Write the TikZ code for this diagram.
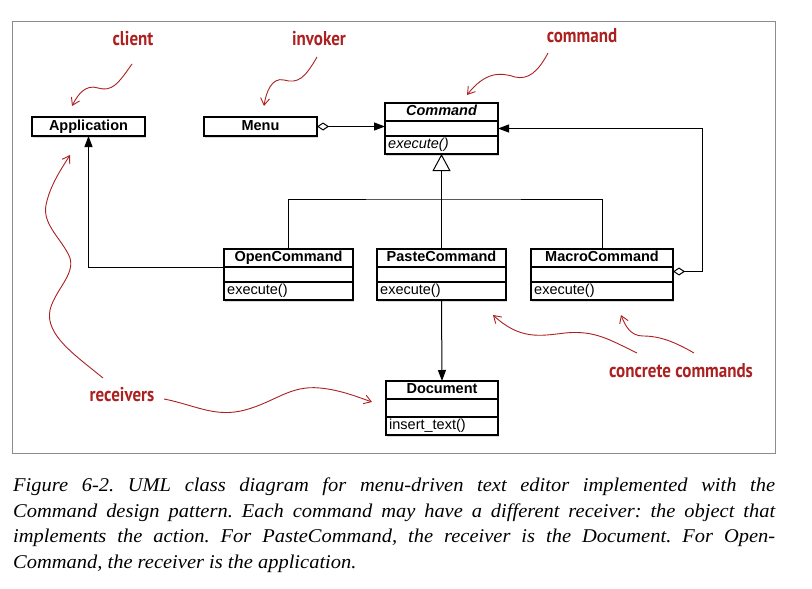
\documentclass[tikz,border=0pt]{standalone}
\usepackage{fontspec}
\setmainfont{Liberation Serif}
\newfontfamily\capfont{Liberation Serif}[FakeStretch=1.05]
\newfontfamily\boxfont{Liberation Sans}
\newfontfamily\handfont{PT Sans}[FakeStretch=0.85]
\usetikzlibrary{arrows.meta, positioning, shadows}
\definecolor{handred}{RGB}{172,32,32}
\definecolor{framegray}{RGB}{140,140,140}

\tikzset{
  clsbox/.style={draw, line width=1.2pt, fill=white, inner sep=0pt, outer sep=0pt,
    minimum height=18pt, text height=10.5pt, text depth=3pt,
    drop shadow={opacity=0.3, shadow xshift=1pt, shadow yshift=-1.5pt}},
  clsname/.style={clsbox, font=\boxfont\bfseries\fontsize{14.5}{14.5}\selectfont},
  optext/.style={inner sep=0pt, font=\boxfont\fontsize{14.5}{14.5}\selectfont},
  link/.style={line width=1pt},
  assoc/.style={link, -{Triangle[length=11pt, width=8pt]}},
  aggr/.style={link, {Diamond[open, length=12pt, width=8pt]}-{Triangle[length=11pt, width=8pt]}},
  inherit/.style={link, -{Triangle[open, length=17pt, width=18pt, fill=white]}},
  note/.style={handred, font=\handfont\bfseries\fontsize{20}{20}\selectfont},
  wavy/.style={handred, line width=0.9pt, -{Straight Barb[length=7pt, width=9pt]}},
}

% class box: name, attribute part and operation part
\newcommand{\umlclass}[6][15pt]{%
  \node[clsname, minimum width=#4] (#2) at #3 {#5};
  \node[clsbox, minimum width=#4, minimum height=#1, below=0pt of #2] (#2-attr) {};
  \node[clsbox, minimum width=#4, below=0pt of #2-attr] (#2-op) {};
  \node[optext, anchor=west] (#2-optxt) at ([xshift=3pt]#2-op.west) {#6};
}

\begin{document}
\begin{tikzpicture}[x=1pt, y=-1pt]
  \useasboundingbox (0,0) rectangle (812,589);
  \draw[framegray, line width=1pt] (12,21) rectangle (775,453);

  % classes
  \node[clsname, minimum width=113pt, minimum height=19pt] (app) at (88.5,126.5) {Application};
  \node[clsname, minimum width=113pt, minimum height=19pt] (menu) at (260.5,126.5) {Menu};
  \umlclass{cmd}{(441.5,112)}{113pt}{\itshape Command}{\itshape execute()}
  \umlclass{open}{(288.5,258)}{129pt}{OpenCommand}{execute()}
  \umlclass{paste}{(441.5,258)}{129pt}{PasteCommand}{execute()}
  \umlclass{macro}{(602,258)}{142pt}{MacroCommand}{execute()}
  \umlclass[18pt]{doc}{(442,390)}{112pt}{Document}{insert\_text()}

  % relations
  \coordinate (bus) at (0,199);
  \coordinate (ret) at (702,0);
  \draw[aggr] (menu.east) -- (menu.east -| cmd.west);
  \draw[link] (open.north) |- (bus -| paste) -| (macro.north);
  \draw[inherit] (paste.north) -- (cmd-op.south);
  \draw[assoc] (open.south west) -| (app.south);
  \draw[assoc] (paste-op.south) -- (doc.north);
  \draw[aggr] ([yshift=3pt]macro-attr.east) -- ([yshift=3pt]macro-attr.east -| ret) |- (cmd-attr.east);

  % notes
  \node[note] (client) at (133,39) {client};
  \node[note] (invoker) at (319,39) {invoker};
  \node[note] (cmdnote) at (582,36) {command};
  \node[note] (recv) at (122,395) {receivers};
  \node[note] (concrete) at (681,371) {concrete commands};

  \coordinate (client-tip) at (72,106);
  \coordinate (invoker-tip) at (264,106);
  \coordinate (cmd-tip) at (467,95);
  \coordinate (recv-tip1) at (70,155);
  \coordinate (recv-tip2) at (372,402);
  \coordinate (conc-tip1) at (493,315);
  \coordinate (conc-tip2) at (621,315);

  \draw[wavy] (132,64) .. controls (118,84) and (112,92) .. (98,88)
    .. controls (86,84) and (78,94) .. (client-tip);
  \draw[wavy] (317,57) .. controls (305,78) and (298,84) .. (284,80)
    .. controls (272,77) and (266,92) .. (invoker-tip);
  \draw[wavy] (548,53) .. controls (538,72) and (528,80) .. (515,77)
    .. controls (500,72) and (485,72) .. (cmd-tip);
  \draw[wavy] (103,378) .. controls (75,355) and (45,335) .. (50,310)
    .. controls (55,290) and (75,275) .. (70,258)
    .. controls (63,240) and (42,225) .. (46,205)
    .. controls (50,185) and (62,168) .. (recv-tip1);
  \draw[wavy] (164,399) .. controls (195,405) and (215,418) .. (245,410)
    .. controls (275,402) and (290,385) .. (320,388)
    .. controls (340,390) and (355,396) .. (recv-tip2);
  \draw[wavy] (637,353) .. controls (610,340) and (595,330) .. (565,333)
    .. controls (540,336) and (520,340) .. (conc-tip1);
  \draw[wavy] (694,353) .. controls (675,342) and (660,336) .. (643,336)
    .. controls (630,336) and (625,325) .. (conc-tip2);

  % caption
  \node[anchor=north west, inner sep=0pt, text width=762pt, align=justify,
    font=\capfont\itshape\frenchspacing\fontsize{19.5}{25.5}\selectfont] (caption) at (13,478)
    {Figure 6-2. UML class diagram for menu-driven text editor implemented with the\linebreak
     Command design pattern. Each command may have a different receiver: the object that\linebreak
     implements the action. For PasteCommand, the receiver is the Document. For Open-\linebreak
     Command, the receiver is the application.};
\end{tikzpicture}
\end{document}
